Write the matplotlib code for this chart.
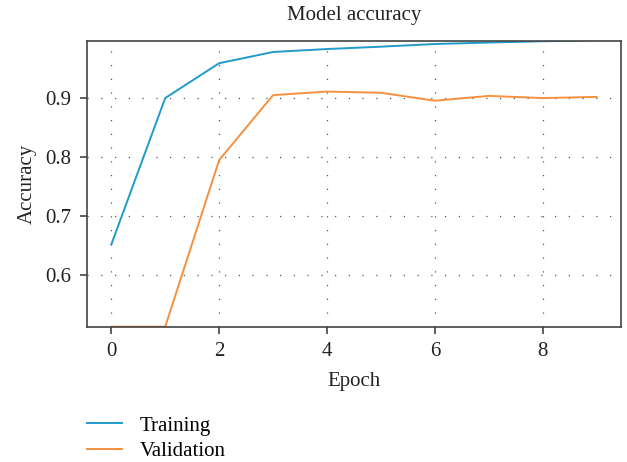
import matplotlib
matplotlib.use("Agg")
import matplotlib.pyplot as plt

epochs = [0, 1, 2, 3, 4, 5, 6, 7, 8, 9]
training = [0.652, 0.900, 0.959, 0.978, 0.983, 0.987, 0.9915, 0.994, 0.9962, 0.998]
validation = [0.513, 0.513, 0.795, 0.905, 0.911, 0.909, 0.8955, 0.9037, 0.900, 0.902]
title = "Model accuracy"
xlabel = "Epoch"
ylabel = "Accuracy"
series_names = ["Training", "Validation"]
xticks = [0, 2, 4, 6, 8]
yticks = [0.6, 0.7, 0.8, 0.9]

plt.rcParams['font.family'] = ['Liberation Serif', 'DejaVu Serif']
FS = 15
plt.rcParams['font.size'] = FS

fig = plt.figure(figsize=(6.27, 4.62), dpi=100)
ax = fig.add_axes([87/627, 1-327/462, (621-87)/627, (327-41)/462])

c_train = "#1f9bcc"
c_val = "#f5903f"
l1, = ax.plot(epochs, training, color=c_train, lw=1.4, label=series_names[0])
l2, = ax.plot(epochs, validation, color=c_val, lw=1.4, label=series_names[1])

ax.set_xlim(-0.45, 9.45)
ax.set_ylim(0.5125, 0.9966)
ax.set_xticks(xticks)
ax.set_yticks(yticks)
ax.set_yticklabels([f"{v:.1f}" for v in yticks])
ax.grid(True, color="#555555", linestyle=(0, (1, 10)), linewidth=0.9)
for s in ax.spines.values():
    s.set_color("#444444")
    s.set_linewidth(1.2)
ax.tick_params(axis='both', direction='out', length=5, width=1.2, color="#444444",
               labelcolor="#222222", labelsize=FS, pad=6)
ax.set_title(title, fontsize=FS, color="#222222", pad=15)
ax.set_xlabel(xlabel, fontsize=FS, color="#222222", labelpad=8)
ax.set_ylabel(ylabel, fontsize=FS, color="#222222", labelpad=6)

fig.legend(handles=[l1, l2], loc='upper left', bbox_to_anchor=(87/627, 1-416/462),
           frameon=False, fontsize=FS, handlelength=1.7, handletextpad=0.85,
           labelspacing=0.28, borderpad=0, borderaxespad=0)

fig.savefig("out.png", dpi=100)
